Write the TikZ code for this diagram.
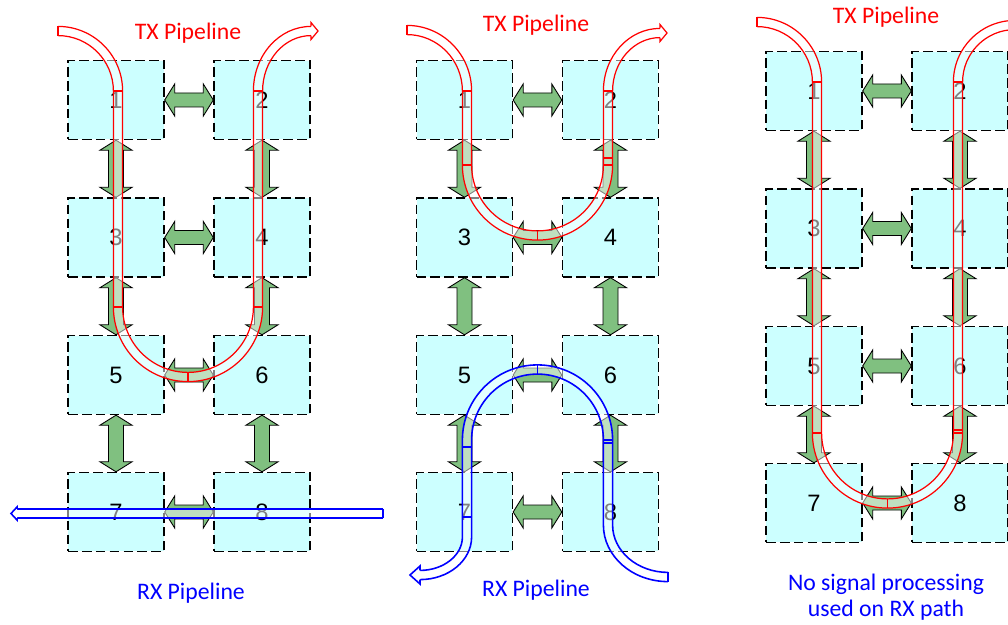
\documentclass[tikz,border=0pt]{standalone}
\usepackage{fontspec}
\setmainfont{Carlito}
\newfontfamily\digitfont{Liberation Sans}
\usetikzlibrary{calc}

\definecolor{boxcyan}{RGB}{204,255,255}
\definecolor{linkgreen}{RGB}{128,192,128}

\begin{document}
\begin{tikzpicture}[x = 0.02cm, y = -0.02cm,
    block/.style = {draw, fill = boxcyan, line width = 0.8pt, dash pattern = on 5.5pt off 2.4pt,
      minimum width = 1.92cm, minimum height = 1.58cm, inner sep = 0pt,
      font = \digitfont\fontsize{13.5}{16}\selectfont},
    link/.style = {draw, fill = linkgreen, line width = 0.5pt},
    pipefill/.style = {draw = white, draw opacity = 0.5, line width = 0.184cm, line cap = butt},
    txrim/.style = {draw = red, line width = 0.7pt},
    rxrim/.style = {draw = blue, line width = 0.9pt},
    txhead/.style = {txrim, fill = white, line join = miter},
    rxhead/.style = {rxrim, fill = white, line join = miter},
    caption/.style = {text = #1, font = \fontsize{13.5}{14.5}\selectfont, align = center}]
    \useasboundingbox (0,0) rectangle (1008,625);
    % processing blocks, three panels
    \foreach \p/\px/\py in {A/116/100, B/464.5/100, C/814/91} {
      \foreach \n/\dx/\dy in {1/0/0, 2/146/0, 3/0/137.5, 4/146/137.5,
                              5/0/275, 6/146/275, 7/0/412, 8/146/412}
        \node[block] (\p\n) at (\px+\dx, \py+\dy) {\n};
    }
    % links between blocks
    \foreach \p in {A, B, C} {
      \foreach \a/\b in {1/2, 3/4, 5/6, 7/8}
        \path[link] (\p\a.east) -- ++(10,-16) -- ++(0,9) -- ($(\p\b.west)+(-10,-7)$) -- ++(0,-9)
          -- (\p\b.west) -- ++(-10,16) -- ++(0,-9) -- ($(\p\a.east)+(10,7)$) -- ++(0,9) -- cycle;
      \foreach \a/\b in {1/3, 3/5, 5/7, 2/4, 4/6, 6/8}
        \path[link] (\p\a.south) -- ++(16,10) -- ++(-8.5,0) -- ($(\p\b.north)+(7.5,-10)$) -- ++(8.5,0)
          -- (\p\b.north) -- ++(-16,-10) -- ++(8.5,0) -- ($(\p\a.south)+(-7.5,10)$) -- ++(-8.5,0) -- cycle;
    }
    % panel A, TX pipeline
    \foreach \d/\s in {0/pipefill, 4.6/txrim, -4.6/txrim}
      \path[\s] (58,{31-(\d)}) arc[start angle = 270, end angle = 360, radius = {60+(\d)}]
        -- ({118+(\d)},307) arc[start angle = 180, end angle = 0, radius = {70-(\d)}]
        -- ({258-(\d)},91) arc[start angle = 180, end angle = 270, x radius = {53+(\d)}, y radius = {60+(\d)}];
    \path[txrim] (58,26.4) -- (58,35.6);
    \foreach \y in {91, 307} {
      \path[txrim] (113.4,\y) -- (122.6,\y);
      \path[txrim] (253.4,\y) -- (262.6,\y);
    }
    \path[txrim] (188,372.4) -- (188,381.6);
    \path[txhead] (311,26.4) -- (311,22.5) -- (318,31) -- (311,39.5) -- (311,35.6);
    % panel A, RX pipeline
    \foreach \d/\s in {0/pipefill, 4.6/rxrim, -4.6/rxrim}
      \path[\s] (383,{513.5+(\d)}) -- (17,{513.5+(\d)});
    \path[rxrim] (383,508.9) -- (383,518.1);
    \path[rxhead] (17,508.9) -- (17,507) -- (11,513.5) -- (17,520) -- (17,518.1);
    % panel B, TX pipeline
    \foreach \d/\s in {0/pipefill, 4.6/txrim, -4.6/txrim}
      \path[\s] (407,{30-(\d)}) arc[start angle = 270, end angle = 360, x radius = {60+(\d)}, y radius = {61+(\d)}]
        -- ({467+(\d)},165) arc[start angle = 180, end angle = 0, radius = {70.5-(\d)}]
        -- ({608-(\d)},91) arc[start angle = 180, end angle = 270, x radius = {52+(\d)}, y radius = {58+(\d)}];
    \path[txrim] (407,25.4) -- (407,34.6);
    \foreach \y in {91, 165} {
      \path[txrim] (462.4,\y) -- (471.6,\y);
      \path[txrim] (603.4,\y) -- (612.6,\y);
    }
    \path[txrim] (603.4,158) -- (612.6,158);
    \path[txrim] (537.5,230.9) -- (537.5,240.1);
    \path[txhead] (660,28.4) -- (660,24.5) -- (667,33) -- (660,41.5) -- (660,37.6);
    % panel B, RX pipeline
    \foreach \d/\s in {0/pipefill, 4.6/rxrim, -4.6/rxrim}
      \path[\s] (668,{577+(\d)}) arc[start angle = 90, end angle = 180, x radius = {60+(\d)}, y radius = {52+(\d)}]
        -- ({608-(\d)},440) arc[start angle = 0, end angle = -180, radius = {70.5-(\d)}]
        -- ({467+(\d)},537) arc[start angle = 0, end angle = 90, x radius = {47+(\d)}, y radius = {38+(\d)}];
    \path[rxrim] (668,572.4) -- (668,581.6);
    \foreach \y in {440, 443}
      \path[rxrim] (603.4,\y) -- (612.6,\y);
    \foreach \y in {447, 517}
      \path[rxrim] (462.4,\y) -- (471.6,\y);
    \path[rxrim] (537.5,364.9) -- (537.5,374.1);
    \path[rxhead] (420,570.4) -- (420,566) -- (410,575) -- (420,584) -- (420,579.6);
    % panel C, TX pipeline
    \foreach \d/\s in {0/pipefill, 4.6/txrim, -4.6/txrim}
      \path[\s] (757,{22-(\d)}) arc[start angle = 270, end angle = 360, radius = {60+(\d)}]
        -- ({817+(\d)},433) arc[start angle = 180, end angle = 0, radius = {70.5-(\d)}]
        -- ({958-(\d)},82) arc[start angle = 180, end angle = 270, radius = {57+(\d)}] -- (1030,{25-(\d)});
    \path[txrim] (757,17.4) -- (757,26.6);
    \foreach \y in {82, 433} {
      \path[txrim] (812.4,\y) -- (821.6,\y);
      \path[txrim] (953.4,\y) -- (962.6,\y);
    }
    \path[txrim] (953.4,430) -- (962.6,430);
    \path[txrim] (887.5,498.9) -- (887.5,508.1);
    % captions
    \node[caption = red] (txA) at (188,33) {TX Pipeline};
    \node[caption = blue] (rxA) at (191,593) {RX Pipeline};
    \node[caption = red] (txB) at (536,25) {TX Pipeline};
    \node[caption = blue] (rxB) at (536,590) {RX Pipeline};
    \node[caption = red] (txC) at (886,17) {TX Pipeline};
    \node[caption = blue] (rxC) at (886,597) {No signal processing\\used on RX path};
\end{tikzpicture}
\end{document}
